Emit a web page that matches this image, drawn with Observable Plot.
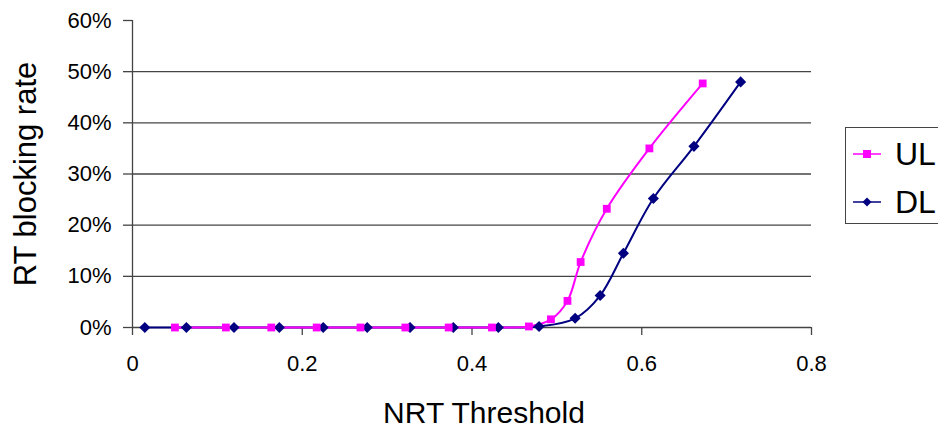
<!DOCTYPE html>
<html>
<head>
<meta charset="utf-8">
<script src="https://cdn.jsdelivr.net/npm/d3@7"></script>
<script src="https://cdn.jsdelivr.net/npm/@observablehq/plot@0.6"></script>
<style>
  html, body { margin: 0; padding: 0; background: #fff; overflow: hidden; }
  #wrap { position: relative; width: 938px; height: 430px; font-family: "Liberation Sans", Arial, sans-serif; }
  #legend { position: absolute; left: 845px; top: 127px; width: 130px; height: 97px; border: 1.3px solid #444; box-sizing: border-box; background: #fff; }
  .item { position: absolute; left: 0; height: 40px; display: flex; align-items: center; }
  .item span { font-size: 32px; color: #000; margin-left: 4px; line-height: 1; }
</style>
</head>
<body>
<div id="wrap">
  <div id="chart"></div>
  <div id="legend"></div>
</div>
<script>
// Series names and colours
const seriesNames = ["UL", "DL"];
const seriesColors = ["#FF00FF", "#000080"];

// UL series (NRT threshold, RT blocking rate)
const ulX = [0.05, 0.11, 0.1635, 0.217, 0.2686, 0.3215, 0.3725, 0.4235, 0.467, 0.493, 0.5125, 0.528, 0.5588, 0.609, 0.6718];
const ulY = [0, 0, 0, 0, 0, 0, 0, 0, 0.002, 0.016, 0.052, 0.128, 0.232, 0.350, 0.477];

// DL series
const dlX = [0.0145, 0.0635, 0.1196, 0.173, 0.2247, 0.2765, 0.327, 0.378, 0.431, 0.479, 0.5215, 0.551, 0.5784, 0.6137, 0.6615, 0.7165];
const dlY = [0, 0, 0, 0, 0, 0, 0, 0, 0, 0.002, 0.018, 0.0625, 0.145, 0.252, 0.354, 0.480];

// Tick values
const xTicks = [0, 0.2, 0.4, 0.6, 0.8];
const xTickLabels = ["0", "0.2", "0.4", "0.6", "0.8"];
const yTicks = [0, 0.1, 0.2, 0.3, 0.4, 0.5, 0.6];
const yTickLabels = ["0%", "10%", "20%", "30%", "40%", "50%", "60%"];
const gridValues = [0.1, 0.2, 0.3, 0.4, 0.5];

const ul = ulX.map((x, i) => ({x, y: ulY[i]}));
const dl = dlX.map((x, i) => ({x, y: dlY[i]}));

const axisColor = "#444";
const plot = Plot.plot({
  width: 938,
  height: 430,
  marginLeft: 132,
  marginRight: 127,
  marginTop: 20,
  marginBottom: 103,
  style: { fontFamily: "Liberation Sans, Arial, sans-serif", fontSize: "22px", color: "#000", background: "#fff" },
  x: { domain: [0, 0.8] },
  y: { domain: [0, 0.6] },
  marks: [
    Plot.gridY(gridValues, { stroke: axisColor, strokeOpacity: 1, strokeWidth: 1.3 }),
    Plot.ruleX([0], { y1: 0, y2: 0.6, stroke: axisColor, strokeWidth: 1.3 }),
    Plot.ruleY([0], { x1: 0, x2: 0.8, stroke: axisColor, strokeWidth: 1.3 }),
    Plot.axisX(xTicks, { tickSize: 8, tickPadding: 20, stroke: axisColor, strokeWidth: 1.3,
      tickFormat: (d) => xTickLabels[xTicks.indexOf(d)], label: null }),
    Plot.axisY(yTicks, { tickSize: 9, tickPadding: 12, stroke: axisColor, strokeWidth: 1.3,
      tickFormat: (d) => yTickLabels[yTicks.indexOf(d)], label: null }),
    Plot.line(dl, { x: "x", y: "y", stroke: seriesColors[1], strokeWidth: 2, curve: "catmull-rom" }),
    Plot.line(ul, { x: "x", y: "y", stroke: seriesColors[0], strokeWidth: 2, curve: "catmull-rom" }),
    Plot.dot(dl, { x: "x", y: "y", symbol: "diamond2", r: 5, fill: seriesColors[1], stroke: "none" }),
    Plot.dot(ul, { x: "x", y: "y", symbol: "square", r: 4.4, fill: seriesColors[0], stroke: "none" }),
    Plot.text(["NRT Threshold"], { frameAnchor: "bottom", lineAnchor: "top", textAnchor: "middle", dx: 12, dy: 74, fontSize: 30, fill: "#000" }),
    Plot.text(["RT blocking rate"], { frameAnchor: "left", lineAnchor: "bottom", textAnchor: "middle", rotate: -90, dx: -97, fontSize: 31, fill: "#000" })
  ]
});
document.getElementById("chart").appendChild(plot);

// Legend
const legend = document.getElementById("legend");
const symbols = ["square", "diamond"];
seriesNames.forEach((name, i) => {
  const item = document.createElement("div");
  item.className = "item";
  item.style.top = (i === 0 ? 6 : 54) + "px";
  const marker = symbols[i] === "square"
    ? `<rect x="10" y="5" width="8" height="8" fill="${seriesColors[i]}"/>`
    : `<path d="M14,4.5 L18.5,9 L14,13.5 L9.5,9 Z" fill="${seriesColors[i]}"/>`;
  item.innerHTML = `<svg width="38" height="18" style="margin-left:7px"><line x1="0" y1="9" x2="28" y2="9" stroke="${seriesColors[i]}" stroke-width="1.5"/>${marker}</svg><span>${name}</span>`;
  legend.appendChild(item);
});
</script>
</body>
</html>
